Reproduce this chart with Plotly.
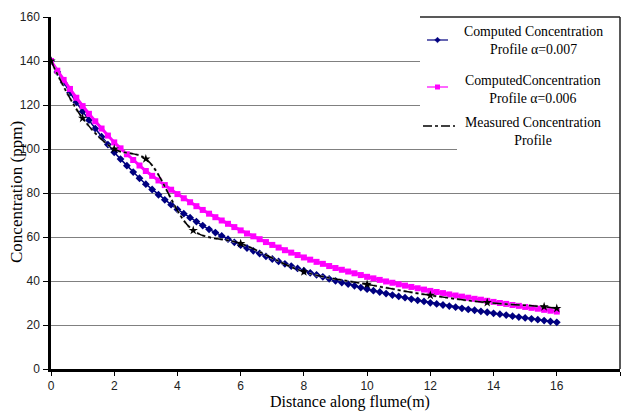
import plotly.graph_objects as go

# ---------------- data ----------------
x_model = [round(i * 0.2, 1) for i in range(81)]

conc_a007 = [140.0, 135.0, 130.2, 125.6, 121.2, 117.0,
             113.1, 109.3, 105.6, 102.0, 98.5,
             95.4, 92.4, 89.5, 86.7, 84.0,
             81.6, 79.2, 76.9, 74.7, 72.5,
             70.6, 68.8, 67.0, 65.2, 63.5,
             62.0, 60.5, 59.0, 57.6, 56.3,
             55.0, 53.7, 52.5, 51.2, 50.0,
             48.9, 47.8, 46.8, 45.7, 44.7,
             43.7, 42.8, 41.9, 41.0, 40.1,
             39.3, 38.6, 37.8, 37.0, 36.3,
             35.6, 35.0, 34.3, 33.6, 33.0,
             32.4, 31.8, 31.2, 30.7, 30.1,
             29.6, 29.1, 28.6, 28.1, 27.6,
             27.1, 26.7, 26.2, 25.8, 25.3,
             24.9, 24.5, 24.0, 23.6, 23.2,
             22.8, 22.4, 22.0, 21.6, 21.2]

conc_a006 = [140.0, 135.6, 131.4, 127.3, 123.3, 119.5,
             116.0, 112.6, 109.3, 106.1, 103.0,
             100.3, 97.6, 95.0, 92.5, 90.0,
             87.8, 85.7, 83.6, 81.5, 79.5,
             77.6, 75.8, 74.0, 72.3, 70.6,
             69.0, 67.5, 66.0, 64.5, 63.0,
             61.6, 60.3, 59.0, 57.7, 56.4,
             55.2, 54.0, 52.9, 51.8, 50.7,
             49.7, 48.7, 47.8, 46.8, 45.9,
             45.1, 44.3, 43.5, 42.7, 41.9,
             41.2, 40.5, 39.8, 39.2, 38.5,
             37.9, 37.3, 36.7, 36.1, 35.5,
             35.0, 34.5, 33.9, 33.4, 32.9,
             32.4, 31.9, 31.5, 31.0, 30.5,
             30.0, 29.6, 29.1, 28.7, 28.2,
             27.8, 27.4, 26.9, 26.5, 26.1]

x_measured = [0, 1, 2, 3, 4.5, 6, 8, 10, 12, 13.8, 15.6, 16]
conc_measured = [140, 114, 100, 95.5, 63, 57, 44.2, 38.5, 33.5, 30.2, 28.3, 27.5]

x_ticks = [0, 2, 4, 6, 8, 10, 12, 14, 16, 18]
y_ticks = [0, 20, 40, 60, 80, 100, 120, 140, 160]

legend_lines = [
    "Computed Concentration<br>Profile α=0.007",
    "ComputedConcentration<br>Profile α=0.006",
    "Measured Concentration<br>Profile",
]

NAVY = "#000080"
MAGENTA = "#FF00FF"

# ---------------- geometry helpers (pixel -> paper) ----------------
L, T, PW, PH = 51, 17, 569, 352


def px(xp):
    return (xp - L) / PW


def py(yp):
    return (T + PH - yp) / PH


fig = go.Figure()

fig.add_trace(go.Scatter(
    x=x_model, y=conc_a007, mode="lines+markers",
    line=dict(color=NAVY, width=1.5),
    marker=dict(symbol="diamond", size=6, color=NAVY),
    showlegend=False))

fig.add_trace(go.Scatter(
    x=x_model, y=conc_a006, mode="lines+markers",
    line=dict(color=MAGENTA, width=3),
    marker=dict(symbol="square", size=6, color=MAGENTA),
    showlegend=False))

fig.add_trace(go.Scatter(
    x=x_measured, y=conc_measured, mode="lines",
    line=dict(color="#A0A0A0", width=2.5, dash="dot", shape="spline"),
    showlegend=False, hoverinfo="skip"))

fig.add_trace(go.Scatter(
    x=x_measured, y=conc_measured, mode="lines+markers",
    line=dict(color="black", width=1.5, dash="dashdot", shape="spline"),
    marker=dict(symbol="star", size=7, color="black"),
    showlegend=False))

shapes = []
# legend background boxes
shapes.append(dict(type="rect", xref="paper", yref="paper",
                   x0=px(420), x1=px(620), y0=py(118), y1=py(17),
                   fillcolor="white", line=dict(width=0), layer="above"))
shapes.append(dict(type="rect", xref="paper", yref="paper",
                   x0=px(457), x1=px(620), y0=py(152), y1=py(17),
                   fillcolor="white", line=dict(width=0), layer="above"))
# top border over legend and right border of plot
shapes.append(dict(type="line", xref="paper", yref="paper",
                   x0=px(420), x1=1, y0=1, y1=1,
                   line=dict(color="#222222", width=1.5), layer="above"))
shapes.append(dict(type="line", xref="paper", yref="paper",
                   x0=1, x1=1, y0=0, y1=1,
                   line=dict(color="#222222", width=1.5), layer="above"))
# legend samples
shapes.append(dict(type="line", xref="paper", yref="paper",
                   x0=px(427), x1=px(448), y0=py(40), y1=py(40),
                   line=dict(color=NAVY, width=1.2), layer="above"))
cx, cy = 437.5, 40
d = 2.8
shapes.append(dict(type="path", xref="paper", yref="paper",
                   path=f"M {px(cx)},{py(cy-d)} L {px(cx+d)},{py(cy)} L {px(cx)},{py(cy+d)} L {px(cx-d)},{py(cy)} Z",
                   fillcolor=NAVY, line=dict(color=NAVY, width=0.5), layer="above"))
shapes.append(dict(type="line", xref="paper", yref="paper",
                   x0=px(427), x1=px(448), y0=py(87), y1=py(87),
                   line=dict(color=MAGENTA, width=1.2), layer="above"))
s = 2.5
shapes.append(dict(type="rect", xref="paper", yref="paper",
                   x0=px(437.5 - s), x1=px(437.5 + s), y0=py(87 + s), y1=py(87 - s),
                   fillcolor=MAGENTA, line=dict(width=0), layer="above"))
shapes.append(dict(type="line", xref="paper", yref="paper",
                   x0=px(423), x1=px(455), y0=py(126), y1=py(126),
                   line=dict(color="black", width=1.5, dash="dashdot"), layer="above"))

annotations = []
for txt, yc in zip(legend_lines, [40.5, 89.5, 131.5]):
    annotations.append(dict(
        text=txt, xref="paper", yref="paper", x=px(533), y=py(yc),
        xanchor="center", yanchor="middle", align="center", showarrow=False,
        font=dict(family="Liberation Serif", size=13.8, color="black")))

annotations.append(dict(
    text="Distance along flume(m)", xref="paper", yref="paper",
    x=px(350), y=py(412), xanchor="center", yanchor="bottom", showarrow=False,
    borderpad=0,
    font=dict(family="Liberation Serif", size=16, color="black")))
annotations.append(dict(
    text="Concentration (ppm)", xref="paper", yref="paper",
    x=px(16), y=py(192), xanchor="center", yanchor="middle", showarrow=False,
    textangle=-90,
    font=dict(family="Liberation Serif", size=17, color="black")))

fig.update_layout(
    width=625, height=412, autosize=False,
    margin=dict(l=L, r=625 - L - PW, t=T, b=412 - T - PH, pad=0),
    paper_bgcolor="white", plot_bgcolor="white",
    shapes=shapes, annotations=annotations,
    showlegend=False,
    font=dict(family="Liberation Sans", size=12, color="#222222"),
)

fig.update_xaxes(
    range=[0, 18], tickvals=x_ticks, ticktext=[str(v) for v in x_ticks],
    showgrid=False, zeroline=False,
    showline=True, linecolor="black", linewidth=2.5,
    ticks="outside", ticklen=4, tickwidth=1.2, tickcolor="black",
    ticklabelstandoff=0,
    tickfont=dict(family="Liberation Sans", size=12, color="#222222"))

fig.update_yaxes(
    range=[0, 160], tickvals=y_ticks, ticktext=[str(v) for v in y_ticks],
    showgrid=True, gridcolor="#808080", gridwidth=1, zeroline=False,
    showline=True, linecolor="black", linewidth=2.5,
    ticks="outside", ticklen=5, tickwidth=1.2, tickcolor="black",
    ticklabelstandoff=1,
    tickfont=dict(family="Liberation Sans", size=12, color="#222222"))

fig.write_html("out.html",
               config={"displayModeBar": False},
               post_script="document.body.style.margin='0px';document.body.style.padding='0px';")
